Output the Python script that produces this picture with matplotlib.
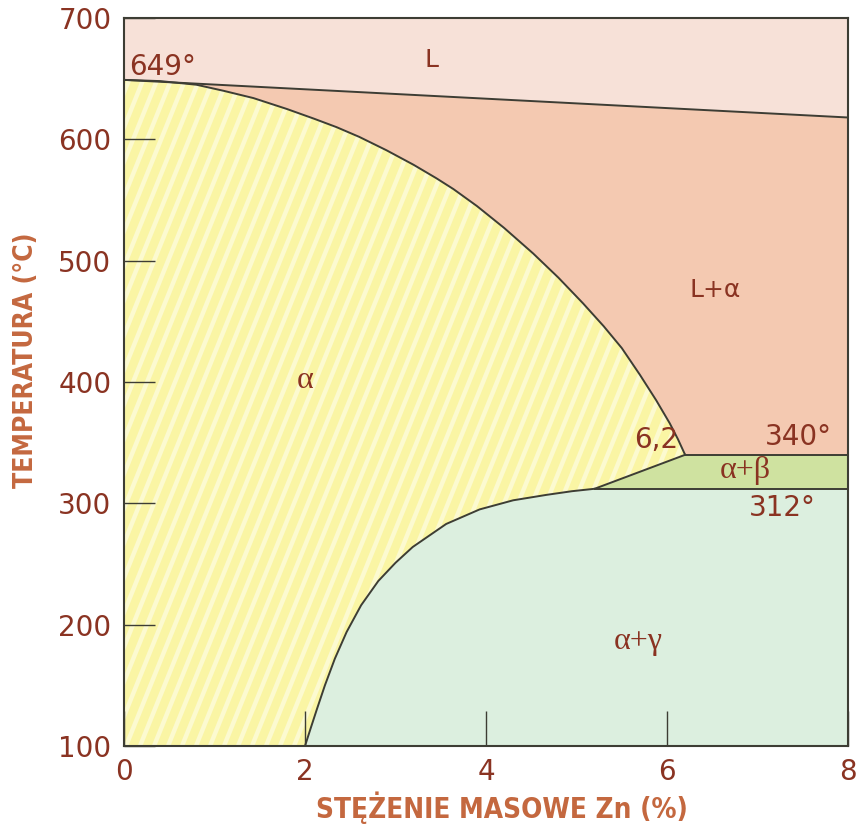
import matplotlib
matplotlib.use("Agg")
import matplotlib.pyplot as plt
from matplotlib.collections import LineCollection
import numpy as np

# Mg-Zn phase diagram, Mg-rich corner
# liquidus: straight from Mg melting point to right edge
liq_x = [0.0, 8.0]
liq_t = [649, 618]

# solidus of alpha, from 649 deg down to the point 6.2 % / 340 deg
sol_x = [0.0, 0.4, 0.8, 1.1, 1.43, 1.8, 2.1, 2.35, 2.6, 2.9, 3.2, 3.45, 3.64,
         3.9, 4.2, 4.52, 4.8, 5.07, 5.3, 5.5, 5.7, 5.88, 6.03, 6.12, 6.2]
sol_t = [649, 648, 645, 640, 634, 625, 617, 610, 602, 591, 579, 568, 559,
         545, 527, 506, 486, 465, 446, 428, 406, 385, 366, 353, 340]

# solvus alpha / alpha+gamma, from room temperature up to 312 deg
solv_x = [2.0, 2.06, 2.13, 2.22, 2.33, 2.46, 2.62, 2.81, 3.0, 3.19, 3.56,
          3.93, 4.3, 4.67, 4.95, 5.2]
solv_t = [100, 114, 130, 150, 172, 194, 216, 236, 251, 264, 283,
          295, 302.5, 307, 310, 312]

t_340 = 340
t_312 = 312
x_max = 8.0

xticks = [0, 2, 4, 6, 8]
yticks = [100, 200, 300, 400, 500, 600, 700]

c_L = "#f7e1d8"
c_La = "#f4c9b1"
c_a = "#faf5a4"
c_stripe = "#fcfad0"
c_ab = "#cfe2a0"
c_ag = "#dcefdf"
c_line = "#3d3d34"
c_txt = "#8a3322"
c_lab = "#c4683f"

fig = plt.figure(figsize=(8.62, 8.32), dpi=100)
ax = fig.add_axes([124 / 862, 1 - 746 / 832, 724 / 862, 728 / 832])
ax.set_xlim(0, x_max)
ax.set_ylim(100, 700)

# alpha field underneath everything
ax.fill([0, x_max, x_max, 0], [100, 100, 700, 700], color=c_a, lw=0, zorder=0)

# pale diagonal stripes over the alpha field (the other fields cover them)
ang = np.deg2rad(68)
run = (728 / np.tan(ang)) / 724
starts = np.arange(-0.5, 1.0, 14 / 724)
segs = [[(s, 0), (s + run, 1)] for s in starts]
ax.add_collection(LineCollection(segs, colors=c_stripe, linewidths=3.2,
                                 transform=ax.transAxes, zorder=0.5))

# L field
ax.fill(liq_x + [x_max, 0], liq_t + [700, 700], color=c_L, lw=0, zorder=1)

# L + alpha field
la_x = liq_x + [x_max, sol_x[-1]] + sol_x[::-1]
la_t = liq_t + [t_340, t_340] + sol_t[::-1]
ax.fill(la_x, la_t, color=c_La, lw=0, zorder=1)

# alpha + beta field
ab_x = [sol_x[-1], x_max, x_max, solv_x[-1]]
ab_t = [t_340, t_340, t_312, t_312]
ax.fill(ab_x, ab_t, color=c_ab, lw=0, zorder=1)

# alpha + gamma field
ag_x = solv_x + [x_max, x_max]
ag_t = solv_t + [t_312, 100]
ax.fill(ag_x, ag_t, color=c_ag, lw=0, zorder=1)

# phase boundaries
lw = 1.4
kw = dict(color=c_line, lw=lw, zorder=3, solid_joinstyle="round")
ax.plot(liq_x, liq_t, **kw)
ax.plot(sol_x, sol_t, **kw)
ax.plot(solv_x, solv_t, **kw)
ax.plot([sol_x[-1], solv_x[-1]], [t_340, t_312], **kw)
ax.plot([sol_x[-1], x_max], [t_340, t_340], **kw)
ax.plot([solv_x[-1], x_max], [t_312, t_312], **kw)

for s in ax.spines.values():
    s.set_color(c_line)
    s.set_linewidth(1.5)
    s.set_zorder(4)

ax.set_xticks(xticks)
ax.set_yticks(yticks)
ax.set_xticklabels([str(v) for v in xticks])
ax.set_yticklabels([str(v) for v in yticks])
ax.tick_params(axis="x", direction="in", length=25, width=1, color=c_line,
               pad=9, labelsize=20, labelcolor=c_txt)
ax.tick_params(axis="y", direction="in", length=22, width=1, color=c_line,
               pad=9, labelsize=20, labelcolor=c_txt)

# field and point labels
num = dict(color=c_txt, fontsize=20, family="DejaVu Sans", zorder=5)
greek = dict(color=c_txt, fontsize=23, family=["Liberation Serif", "DejaVu Serif"], zorder=5)
ax.text(0.06, 660, "649°", ha="left", va="center", **num)
ax.text(3.4, 665, "L", ha="center", va="center", color=c_txt, fontsize=18, zorder=5)
ax.text(6.53, 476, "L+α", ha="center", va="center", color=c_txt, fontsize=18, zorder=5)
ax.text(2.0, 401, "α", ha="center", va="center", **greek)
ax.text(6.12, 352, "6,2", ha="right", va="center", **num)
ax.text(7.82, 355, "340°", ha="right", va="center", **num)
ax.text(6.86, 327, "α+β", ha="center", va="center", **greek)
ax.text(7.27, 296, "312°", ha="center", va="center", **num)
ax.text(5.68, 186, "α+γ", ha="center", va="center", **greek)

axlab = dict(color=c_lab, fontweight="bold", fontstretch="condensed",
             family="DejaVu Sans")
fig.text(502 / 862, 1 - 808 / 832, "STĘŻENIE MASOWE Zn (%)", fontsize=20,
         ha="center", va="center", **axlab)
fig.text(26 / 862, 1 - 360 / 832, "TEMPERATURA (°C)", fontsize=19, rotation=90,
         ha="center", va="center", **axlab)

fig.savefig("out.png", dpi=100, facecolor="white")
